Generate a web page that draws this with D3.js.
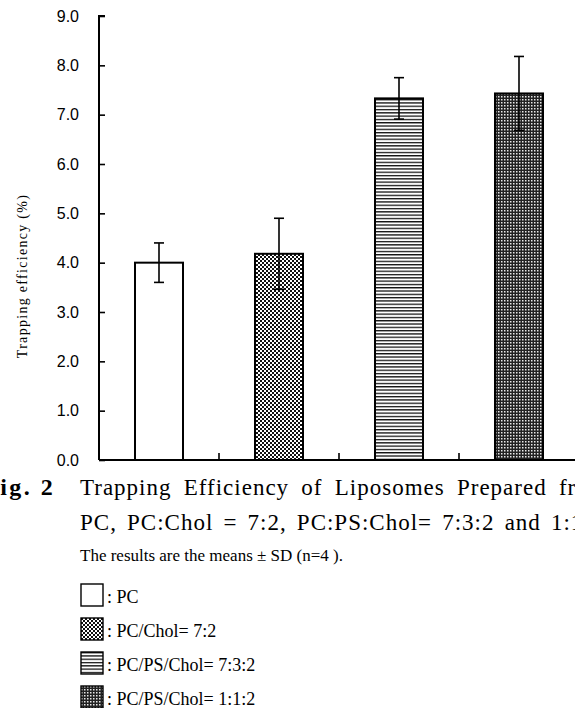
<!DOCTYPE html>
<html>
<head>
<meta charset="utf-8">
<script src="https://cdn.jsdelivr.net/npm/d3@7"></script>
<style>
  body { margin: 0; background: #fff; }
  svg { display: block; }
  .tick-label { font-family: "Liberation Sans", Arial, sans-serif; font-size: 16px; }
  .serif { font-family: "Liberation Serif", "Times New Roman", serif; }
</style>
</head>
<body>
<div id="chart"></div>
<script>
const groups = ['PC', 'PC/Chol= 7:2', 'PC/PS/Chol= 7:3:2', 'PC/PS/Chol= 1:1:2'];
const means = [4.0, 4.18, 7.33, 7.43];
const sds = [0.4, 0.72, 0.42, 0.75];
const yTicks = [0, 1, 2, 3, 4, 5, 6, 7, 8, 9];
const patterns = ['none', 'checker', 'hlines', 'dark'];

const titleLines = [
  'Trapping Efficiency of Liposomes Prepared from',
  'PC, PC:Chol = 7:2, PC:PS:Chol= 7:3:2 and 1:1:2'
];
const noteLine = 'The results are the means \u00b1 SD (n=4 ).';

const width = 575, height = 708;
const svg = d3.select('#chart').append('svg')
  .attr('width', width)
  .attr('height', height);

// fill patterns for the bars
const defs = svg.append('defs');
const checker = defs.append('pattern').attr('id', 'checker')
  .attr('patternUnits', 'userSpaceOnUse').attr('width', 4).attr('height', 4);
checker.append('rect').attr('width', 4).attr('height', 4).attr('fill', '#fff');
checker.append('rect').attr('width', 2).attr('height', 2).attr('fill', '#111');
checker.append('rect').attr('x', 2).attr('y', 2).attr('width', 2).attr('height', 2).attr('fill', '#111');

const hlines = defs.append('pattern').attr('id', 'hlines')
  .attr('patternUnits', 'userSpaceOnUse').attr('width', 4).attr('height', 3.3);
hlines.append('rect').attr('width', 4).attr('height', 3.3).attr('fill', '#fff');
hlines.append('rect').attr('width', 4).attr('height', 1.3).attr('fill', '#111');

const dark = defs.append('pattern').attr('id', 'dark')
  .attr('patternUnits', 'userSpaceOnUse').attr('width', 3).attr('height', 3);
dark.append('rect').attr('width', 3).attr('height', 3).attr('fill', '#222');
dark.append('rect').attr('width', 1.5).attr('height', 1.5).attr('fill', '#e8e8e8');

const fillOf = p => p === 'none' ? '#fff' : `url(#${p})`;

const x = d3.scaleBand()
  .domain(groups)
  .range([99, 579])
  .paddingInner(0.6)
  .paddingOuter(0.3);

const y = d3.scaleLinear().domain([0, 9]).range([460, 16]);

// y axis, ticks pointing inwards
const yAxis = svg.append('g')
  .attr('transform', `translate(${x.range()[0]},0)`)
  .call(d3.axisRight(y).tickValues(yTicks).tickSize(6).tickFormat(''));
yAxis.select('.domain').attr('d', `M6,${y(9)}H0V${y(0)}`).attr('stroke-width', 2);
yAxis.selectAll('.tick line').attr('stroke-width', 1.6);

svg.append('g').selectAll('text')
  .data(yTicks)
  .join('text')
  .attr('class', 'tick-label')
  .attr('x', 79)
  .attr('y', d => y(d))
  .attr('dy', '0.36em')
  .attr('text-anchor', 'end')
  .text(d3.format('.1f'));

// x axis with ticks between the groups
const step = x.step();
const bounds = groups.map(g => x(g) + x.bandwidth() / 2 + step / 2);
svg.append('line')
  .attr('x1', x.range()[0]).attr('x2', x.range()[1])
  .attr('y1', y(0)).attr('y2', y(0))
  .attr('stroke', '#000').attr('stroke-width', 2);
svg.append('g').selectAll('line')
  .data(bounds)
  .join('line')
  .attr('x1', d => d).attr('x2', d => d)
  .attr('y1', y(0)).attr('y2', y(0) - 7)
  .attr('stroke', '#000').attr('stroke-width', 1.6);

// bars
svg.append('g').selectAll('rect')
  .data(groups)
  .join('rect')
  .attr('x', g => x(g))
  .attr('y', (g, i) => y(means[i]))
  .attr('width', x.bandwidth())
  .attr('height', (g, i) => y(0) - y(means[i]))
  .attr('fill', (g, i) => fillOf(patterns[i]))
  .attr('stroke', '#000')
  .attr('stroke-width', 2);

// error bars
const err = svg.append('g').attr('stroke', '#000').attr('stroke-width', 1.6);
groups.forEach((g, i) => {
  const cx = x(g) + x.bandwidth() / 2;
  const lo = y(means[i] - sds[i]), hi = y(means[i] + sds[i]);
  err.append('line').attr('x1', cx).attr('x2', cx).attr('y1', lo).attr('y2', hi);
  err.append('line').attr('x1', cx - 5).attr('x2', cx + 5).attr('y1', lo).attr('y2', lo);
  err.append('line').attr('x1', cx - 5).attr('x2', cx + 5).attr('y1', hi).attr('y2', hi);
});

// axis title
svg.append('text')
  .attr('class', 'serif')
  .attr('transform', 'translate(27,276) rotate(-90)')
  .attr('text-anchor', 'middle')
  .style('font-size', '14px')
  .style('letter-spacing', '1.3px')
  .text('Trapping efficiency (%)');

// caption: the "F" runs off the left edge as in the scan
svg.append('text')
  .attr('class', 'serif')
  .attr('x', -17).attr('y', 495)
  .style('font-size', '24px')
  .style('font-weight', 'bold')
  .style('letter-spacing', '2.5px')
  .text('Fig. 2');

const titleSpacing = [[1.0, 5.5], [1.0, 3.4]];
svg.append('g').selectAll('text')
  .data(titleLines)
  .join('text')
  .attr('class', 'serif')
  .attr('x', 80)
  .attr('y', (d, i) => 495 + i * 35)
  .style('font-size', '23px')
  .style('letter-spacing', (d, i) => titleSpacing[i][0] + 'px')
  .style('word-spacing', (d, i) => titleSpacing[i][1] + 'px')
  .text(d => d);

svg.append('text')
  .attr('class', 'serif')
  .attr('x', 80).attr('y', 561)
  .style('font-size', '17px')
  .text(noteLine);

// legend
const legend = svg.append('g').selectAll('g')
  .data(groups)
  .join('g')
  .attr('transform', (d, i) => `translate(81,${584 + i * 34})`);
legend.append('rect')
  .attr('width', 22).attr('height', 22)
  .attr('fill', (d, i) => fillOf(patterns[i]))
  .attr('stroke', '#000')
  .attr('stroke-width', 1.4);
legend.append('text')
  .attr('class', 'serif')
  .attr('x', 26).attr('y', 19)
  .style('font-size', '18px')
  .text(d => ': ' + d);
</script>
</body>
</html>
